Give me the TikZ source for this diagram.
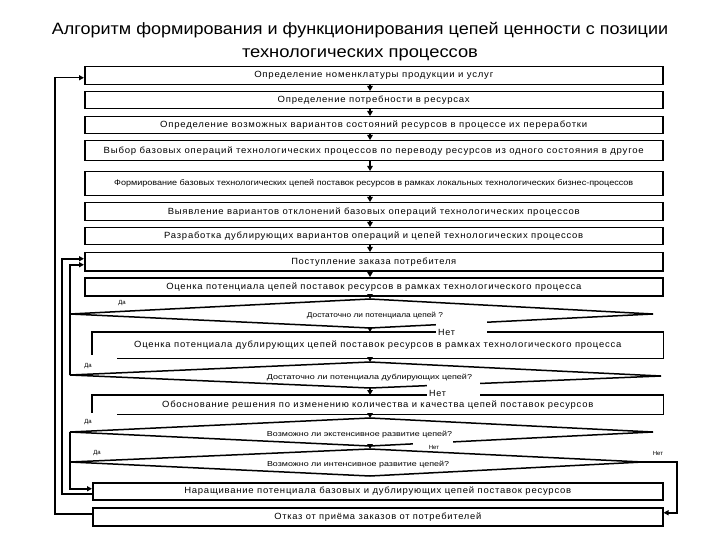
\documentclass[tikz,border=0pt]{standalone}
\usepackage{fontspec}
\setmainfont{Liberation Sans}
\newfontfamily\spfont[LetterSpace=8]{Liberation Sans}
\usetikzlibrary{arrows.meta}
\newcommand{\fw}[2]{\resizebox{#1bp}{\height}{#2}}
\begin{document}
\begin{tikzpicture}[x=1bp,y=-1bp,
  box/.style={draw,line width=1.5bp,inner sep=0pt,anchor=north west,
    font=\spfont\fontsize{9}{10}\selectfont},
  obox/.style={box,draw=none},
  small/.style={inner sep=0pt,font=\fontsize{7.2}{8}\selectfont},
  tiny/.style={inner sep=0pt,font=\fontsize{6}{7}\selectfont},
  netlbl/.style={inner sep=0pt,font=\spfont\fontsize{9}{10}\selectfont},
  ttl/.style={inner sep=0pt,anchor=base,font=\fontsize{16.5}{18}\selectfont},
  dia/.style={line width=1.5bp,line join=miter},
  flow/.style={line width=1.5bp,-{Triangle[width=5.5bp,length=5bp]}},
  fb/.style={line width=1.5bp},
  fba/.style={line width=1.5bp,-{Triangle[width=5bp,length=5bp]}}]
\useasboundingbox (0,0) rectangle (720,540);
\fill[white] (0,0) rectangle (720,540);

% title
\node[ttl] (t1) at (360,35) {\fw{616}{Алгоритм формирования и функционирования цепей ценности с позиции}};
\node[ttl] (t2) at (360,58) {\fw{236}{технологических процессов}};

% boxes
\node[box,minimum width=578bp,minimum height=18bp] (b1) at (84,66) {\fw{239}{Определение номенклатуры продукции и услуг}};
\node[box,minimum width=578bp,minimum height=17bp] (b2) at (84,91) {\fw{192}{Определение потребности в ресурсах}};
\node[box,minimum width=578bp,minimum height=17bp] (b3) at (84,116) {\fw{427}{Определение возможных вариантов состояний ресурсов в процессе их переработки}};
\node[box,minimum width=578bp,minimum height=20bp] (b4) at (84,140) {\fw{540}{Выбор базовых операций технологических процессов по переводу ресурсов из одного состояния в другое}};
\node[box,minimum width=578bp,minimum height=24bp,font=\fontsize{8}{9}\selectfont] (b5) at (84,171) {\fw{519}{Формирование базовых технологических цепей поставок ресурсов в рамках локальных технологических бизнес-процессов}};
\node[box,minimum width=578bp,minimum height=18bp] (b6) at (84,202) {\fw{412}{Выявление вариантов отклонений базовых операций технологических процессов}};
\node[box,minimum width=578bp,minimum height=17bp] (b7) at (84,227) {\fw{419}{Разработка дублирующих вариантов операций и цепей технологических процессов}};
\node[box,minimum width=578bp,minimum height=18bp] (b8) at (84,252) {\fw{165}{Поступление заказа потребителя}};
\node[box,minimum width=578bp,minimum height=18bp] (b9) at (84,277) {\fw{415}{Оценка потенциала цепей поставок ресурсов в рамках технологического процесса}};
\node[obox,minimum width=570bp,minimum height=25bp] (b10) at (92,332) {\raisebox{2bp}{\fw{487}{Оценка потенциала дублирующих цепей поставок ресурсов в рамках технологического процесса}}};
\node[obox,minimum width=570bp,minimum height=18bp] (b11) at (92,395) {\fw{431}{Обоснование решения по изменению количества и качества цепей поставок ресурсов}};
\node[box,minimum width=570bp,minimum height=17bp] (b12) at (92,482) {\fw{387}{Наращивание потенциала базовых и дублирующих цепей поставок ресурсов}};
\node[box,minimum width=570bp,minimum height=18bp] (b13) at (92,507) {\fw{207}{Отказ от приёма заказов от потребителей}};

% open-cornered boxes
\draw[fb] ([yshift=4bp]b10.south west) -- (b10.north west) -- (b10.north east) -- (b10.south east) -- ([xshift=25bp]b10.south west);
\draw[fb] ([yshift=2bp]b11.south west) -- (b11.north west) -- (b11.north east) -- (b11.south east) -- ([xshift=25bp]b11.south west);

% decision shapes
\coordinate (d1l) at (70,314); \coordinate (d1t) at (370,299); \coordinate (d1r) at (653,314); \coordinate (d1b) at (370,328);
\coordinate (d2l) at (70,375); \coordinate (d2t) at (370,362); \coordinate (d2r) at (661,376); \coordinate (d2b) at (370,388);
\coordinate (d3l) at (70,432); \coordinate (d3t) at (370,418); \coordinate (d3r) at (653,432); \coordinate (d3b) at (370,446);
\coordinate (d4l) at (70,462); \coordinate (d4t) at (370,449); \coordinate (d4r) at (643,462); \coordinate (d4b) at (370,476);
\draw[dia] (d1l) -- (d1t) -- (d1r) -- (d1b) -- cycle;
\draw[dia] (d2l) -- (d2t) -- (d2r) -- (d2b) -- cycle;
\draw[dia] (d3l) -- (d3t) -- (d3r) -- (d3b) -- cycle;
\draw[dia] (d4l) -- (d4t) -- (d4r) -- (d4b) -- cycle;

\node[small] (q1) at (375,316) {\fw{136}{Достаточно ли потенциала цепей ?}};
\node[small] (q2) at (369.5,378) {\fw{205}{Достаточно ли потенциала дублирующих цепей?}};
\node[small] (q3) at (359.5,435) {\fw{185}{Возможно ли экстенсивное развитие цепей?}};
\node[small] (q4) at (358,465) {\fw{182}{Возможно ли интенсивное развитие цепей?}};

% flow arrows
\coordinate (ax) at (370,0);
\foreach \a/\b in {b1/b2,b2/b3,b3/b4,b4/b5,b5/b6,b6/b7,b7/b8,b8/b9}
  \draw[flow] (\a.south -| ax) -- (\b.north -| ax);
\draw[flow] (b9.south -| ax) -- (d1t);
\draw[flow] (d1b) -- (b10.north -| ax);
\draw[flow] (b10.south -| ax) -- (d2t);
\draw[flow] (d2b) -- (b11.north -| ax);
\draw[flow] (b11.south -| ax) -- (d3t);
\draw[flow] (d3b) -- (d4t);

% "no" labels with white patches
\fill[white] (436,321) rectangle (487,336);
\node[netlbl,anchor=west] (n1) at (438,332) {Нет};
\fill[white] (427,382) rectangle (480,398);
\node[netlbl,anchor=west] (n2) at (429,393) {Нет};
\fill[white] (413,440) rectangle (453,450);
\node[tiny] (n3) at (434,447.5) {Нет};
\node[tiny] (n4) at (658,453) {Нет};

% "yes" labels
\node[tiny] (y1) at (122,303) {Да};
\node[tiny] (y2) at (88,366) {Да};
\node[tiny] (y3) at (88,422) {Да};
\node[tiny] (y4) at (97,453) {Да};

% feedback connectors
\draw[fba] ([yshift=3bp]b13.west) -- ++(-37,0) |- ([yshift=-2bp]b1.west);
\draw[fba] ([yshift=-2.5bp]b12.west) -- ++(-30,0) |- ([yshift=3bp]b8.west);
\draw[fba] (d2l) |- ([yshift=-3bp]b8.west);
\draw[fba] (d3l) |- ([yshift=2.5bp]b12.west);
\draw[fba] (d4r) -- ++(34,0) |- ([yshift=4bp]b13.east);
\end{tikzpicture}
\end{document}
